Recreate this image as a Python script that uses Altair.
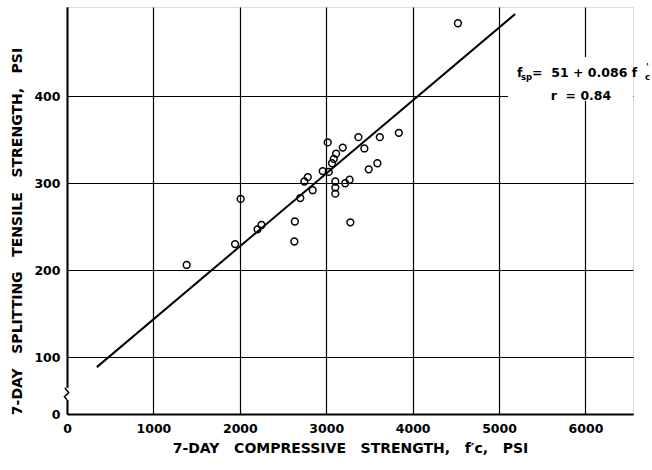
import altair as alt
import pandas as pd

# 7-day compressive strength f'c (psi) and splitting tensile strength fsp (psi)
fc = [1385, 1945, 2010, 2205, 2250, 2631, 2637, 2700, 2747, 2786, 2843,
      2959, 3029, 3017, 3067, 3087, 3114, 3105, 3105, 3105, 3220, 3191,
      3270, 3279, 3372, 3441, 3492, 3592, 3620, 3840, 4524]
fsp = [206, 230, 282, 247, 252, 233, 256, 283, 302, 307, 292,
       314, 313, 347, 323, 328, 334, 302, 295, 288, 300, 341,
       304, 255, 353, 340, 316, 323, 353, 358, 484]

# regression line end points as drawn
line_x = [345, 5185]
line_y = [88.5, 494.5]

x_ticks = [0, 1000, 2000, 3000, 4000, 5000, 6000]
y_ticks = [34.6, 100, 200, 300, 400]   # bottom of broken axis is labelled 0

FONT = "DejaVu Sans"
NB = "\u00a0"
sp3 = NB * 3

pts = pd.DataFrame({"fc": fc, "fsp": fsp})
reg = pd.DataFrame({"fc": line_x, "fsp": line_y})
one = pd.DataFrame({"k": [0]})

xs = alt.Scale(domain=[0, 6550], nice=False, zero=False)
ys = alt.Scale(domain=[34.6, 502.7], nice=False, zero=False)

xaxis = alt.Axis(
    values=x_ticks, format="d", grid=True, gridColor="black", gridWidth=1.2, gridOpacity=1,
    domainColor="black", domainWidth=2, ticks=False, labelPadding=8,
    labelFont=FONT, labelFontSize=12.5, labelFontWeight="bold", labelColor="black",
    labelOverlap=False, labelFlush=False,
    title=f"7-DAY{sp3}COMPRESSIVE{sp3}STRENGTH,{sp3}f′c,{sp3}PSI",
    titleFont=FONT, titleFontSize=14, titleFontWeight="bold", titleColor="black",
    titlePadding=7,
)
yaxis = alt.Axis(
    values=y_ticks, grid=True, gridColor="black", gridWidth=1.2, gridOpacity=1,
    domainColor="black", domainWidth=2, ticks=False, labelPadding=7,
    labelFont=FONT, labelFontSize=12.5, labelFontWeight="bold", labelColor="black",
    labelOverlap=False, labelFlush=False,
    labelExpr="datum.value < 50 ? '0' : datum.label",
    title=f"7-DAY{sp3}SPLITTING{sp3}TENSILE{sp3}STRENGTH,{sp3}PSI",
    titleFont=FONT, titleFontSize=14, titleFontWeight="bold", titleColor="black",
    titleAngle=-90, titleX=-50, titleY=224, titleAlign="center", titleBaseline="middle",
)

points = alt.Chart(pts).mark_point(shape="circle", filled=False, color="black",
                                   size=46, strokeWidth=1.5, opacity=1).encode(
    x=alt.X("fc:Q", scale=xs, axis=xaxis),
    y=alt.Y("fsp:Q", scale=ys, axis=yaxis),
)

line = alt.Chart(reg).mark_line(color="black", strokeWidth=2).encode(
    x=alt.X("fc:Q", scale=xs), y=alt.Y("fsp:Q", scale=ys)
)

# white box behind the equation
box = alt.Chart(one).mark_rect(color="white").encode(
    x=alt.datum(5104, scale=xs), x2=alt.datum(6550),
    y=alt.datum(394.6, scale=ys), y2=alt.datum(445.2),
)

def txt(s, x, y, size=12.5, dx=0, dy=0, align="left"):
    return alt.Chart(one).mark_text(
        text=s, font=FONT, fontSize=size, fontWeight="bold", color="black",
        align=align, baseline="middle", dx=dx, dy=dy,
    ).encode(x=alt.datum(x, scale=xs), y=alt.datum(y, scale=ys))

eq_x, eq_y = 5208, 426.8
eq = (
    txt("f", eq_x, eq_y)
    + txt("sp", eq_x, eq_y, size=8.5, dx=4, dy=4)
    + txt(f"{NB}={NB}{NB}51{NB}+{NB}0.086{NB}f", eq_x, eq_y, dx=15)
    + txt("c", eq_x, eq_y, size=8.5, dx=128, dy=4)
    + txt("'", eq_x, eq_y, size=9, dx=129, dy=-6)
    + txt(f"r{NB}{NB}={NB}0.84", 5948, 400.3, align="center")
)

# axis break symbol
brk_y = [64.7, 59.0, 54.5, 50.9]
brk_x = [-25, 20, -30, 0]
brk = pd.DataFrame({"fc": brk_x, "fsp": brk_y, "o": [0, 1, 2, 3]})
gap = alt.Chart(one).mark_rule(color="white", strokeWidth=4).encode(
    x=alt.datum(0, scale=xs), y=alt.datum(64.7, scale=ys), y2=alt.datum(50.9)
)
zig = alt.Chart(brk).mark_line(color="black", strokeWidth=1.5).encode(
    x=alt.X("fc:Q", scale=xs), y=alt.Y("fsp:Q", scale=ys), order="o:O"
)

chart = alt.layer(points, line, box, eq, gap, zig).properties(
    width=566, height=407,
    autosize=alt.AutoSizeParams(type="none"),
    padding={"left": 67, "top": 7, "right": 19, "bottom": 56},
).configure_view(stroke=None).configure(background="white")

chart.save("out.html", embed_options={"renderer": "svg", "actions": False})
